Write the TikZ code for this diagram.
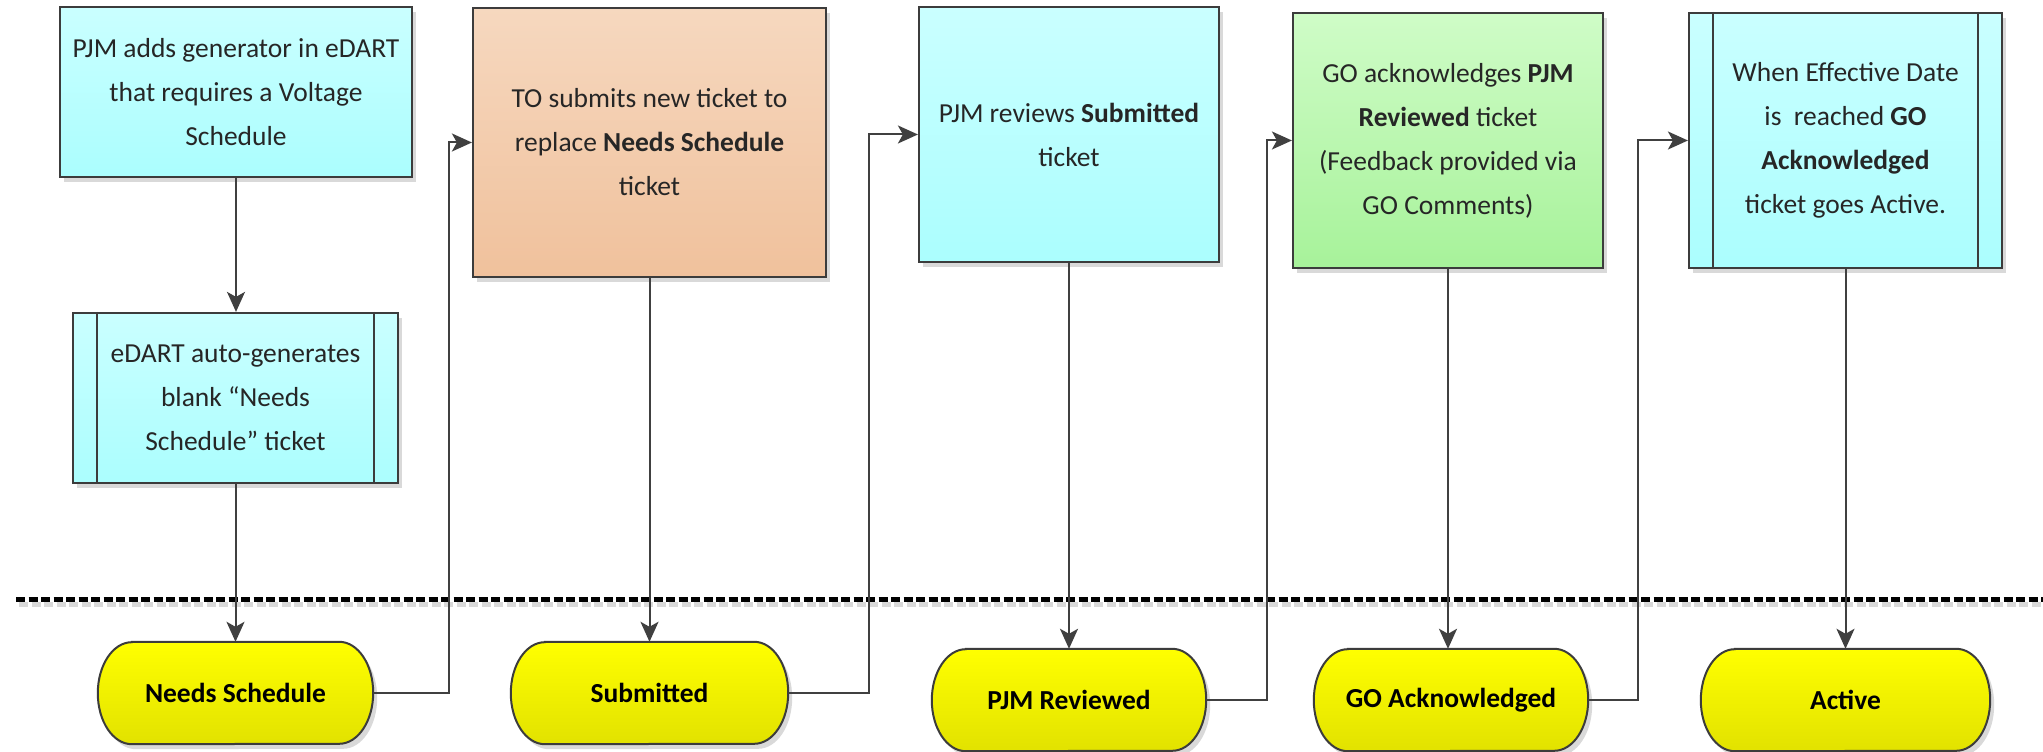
\documentclass[tikz,border=0pt]{standalone}
\usepackage{fontspec}
\setmainfont{Carlito}
\usetikzlibrary{arrows.meta,shadows,backgrounds,calc}
\definecolor{cyanT}{HTML}{CAFFFF}
\definecolor{cyanB}{HTML}{ABFEFE}
\definecolor{orT}{HTML}{F6D8BF}
\definecolor{orB}{HTML}{F0C19C}
\definecolor{grT}{HTML}{CFFCC7}
\definecolor{grB}{HTML}{A7F29A}
\definecolor{yelT}{HTML}{FFFF00}
\definecolor{yelB}{HTML}{E2E200}
\definecolor{lineC}{HTML}{3C3C3C}
\definecolor{connC}{HTML}{404040}
\definecolor{textC}{HTML}{262626}
\tikzset{
  x=1pt, y=1pt,
  box/.style={draw=lineC, line width=2.2pt, align=center, inner sep=0pt,
    font=\fontsize{27.5pt}{44pt}\selectfont, text=textC,
    drop shadow={shadow xshift=4pt, shadow yshift=-5pt, opacity=0.15, fill=black}},
  cyanbox/.style={box, top color=cyanT, bottom color=cyanB},
  orbox/.style={box, top color=orT, bottom color=orB},
  grbox/.style={box, top color=grT, bottom color=grB},
  ovalnode/.style={inner sep=0pt, minimum height=102pt,
    font=\bfseries\fontsize{27.5pt}{44pt}\selectfont, text=black},
  ovalfill/.style={draw=lineC, line width=2pt, top color=yelT, bottom color=yelB,
    drop shadow={shadow xshift=4pt, shadow yshift=-5pt, opacity=0.15, fill=black}},
  conn/.style={draw=connC, line width=2pt, -{Stealth[length=20pt,width=18pt,inset=5pt]}},
  sepline/.style={line width=5pt, dash pattern=on 9pt off 3.5pt, draw=black},
  sepshadow/.style={line width=5pt, dash pattern=on 9pt off 3.5pt, draw=black!15}
}
\newcommand\drawoval[2]{%
  \path[ovalfill] ([xshift=#2]#1.north west) -- ([xshift=-#2]#1.north east)
    arc[start angle=90,end angle=-90,x radius=#2,y radius=51pt]
    -- ([xshift=#2]#1.south west)
    arc[start angle=270,end angle=90,x radius=#2,y radius=51pt] -- cycle;}
\newcommand\predef[1]{%
  \draw[draw=lineC, line width=2pt] ([xshift=25pt]#1.north west) -- ([xshift=25pt]#1.south west);
  \draw[draw=lineC, line width=2pt] ([xshift=-25pt]#1.north east) -- ([xshift=-25pt]#1.south east);}
\begin{document}
\begin{tikzpicture}
\useasboundingbox (0,0) rectangle (2043,752);

% separator
\coordinate (sepA) at (16,152);
\coordinate (sepB) at (2043,152);
\draw[sepshadow] ([shift={(3,-5)}]sepA) -- ([shift={(3,-5)}]sepB);
\draw[sepline] (sepA) -- (sepB);

% process boxes
\node[cyanbox, minimum width=352pt, minimum height=170pt] (b1) at (236,660)
  {PJM adds generator in eDART\\that requires a Voltage\\Schedule};
\node[cyanbox, minimum width=325pt, minimum height=170pt] (b2) at (235.5,354)
  {eDART auto-generates\\blank “Needs\\Schedule” ticket};
\predef{b2}
\node[orbox, minimum width=353pt, minimum height=269pt] (b3) at (649.5,609.5)
  {TO submits new ticket to\\replace \textbf{Needs Schedule}\\ticket};
\node[cyanbox, minimum width=300pt, minimum height=255pt] (b4) at (1069,617.5)
  {PJM reviews \textbf{Submitted}\\ticket};
\node[grbox, minimum width=310pt, minimum height=255pt] (b5) at (1448,611.5)
  {GO acknowledges \textbf{PJM}\\\textbf{Reviewed} ticket\\(Feedback provided via\\GO Comments)};
\node[cyanbox, minimum width=313pt, minimum height=255pt] (b6) at (1845.5,611.5)
  {When Effective Date\\is~~reached \textbf{GO}\\\textbf{Acknowledged}\\ticket goes Active.};
\predef{b6}

% status ovals
\node[ovalnode, minimum width=275pt] (o1) at (235.5,59) {Needs Schedule};
\node[ovalnode, minimum width=277pt] (o2) at (649.5,59) {Submitted};
\node[ovalnode, minimum width=274pt] (o3) at (1069,52) {PJM Reviewed};
\node[ovalnode, minimum width=274pt] (o4) at (1451,52) {GO Acknowledged};
\node[ovalnode, minimum width=289pt] (o5) at (1845.5,52) {Active};
\begin{scope}[on background layer]
  \fill[white] (0,0) rectangle (2043,752);
  \drawoval{o1}{34pt}
  \drawoval{o2}{34pt}
  \drawoval{o3}{34pt}
  \drawoval{o4}{34pt}
  \drawoval{o5}{34pt}
\end{scope}

% vertical connectors
\draw[conn] (b1.south) -- (b1.south |- b2.north);
\draw[conn] (b2.south) -- (b2.south |- o1.north);
\draw[conn] (b3.south) -- (b3.south |- o2.north);
\draw[conn] (b4.south) -- (b4.south |- o3.north);
\draw[conn] (b5.south) -- (b5.south |- o4.north);
\draw[conn] (b6.south) -- (b6.south |- o5.north);

% status to next step
\draw[conn] (o1.east) -- ++(76,0) |- (b3.west);
\draw[conn] (o2.east) -- ++(81,0) |- (b4.west);
\draw[conn] (o3.east) -- ++(61,0) |- (b5.west);
\draw[conn] (o4.east) -- ++(50,0) |- (b6.west);
\end{tikzpicture}
\end{document}
